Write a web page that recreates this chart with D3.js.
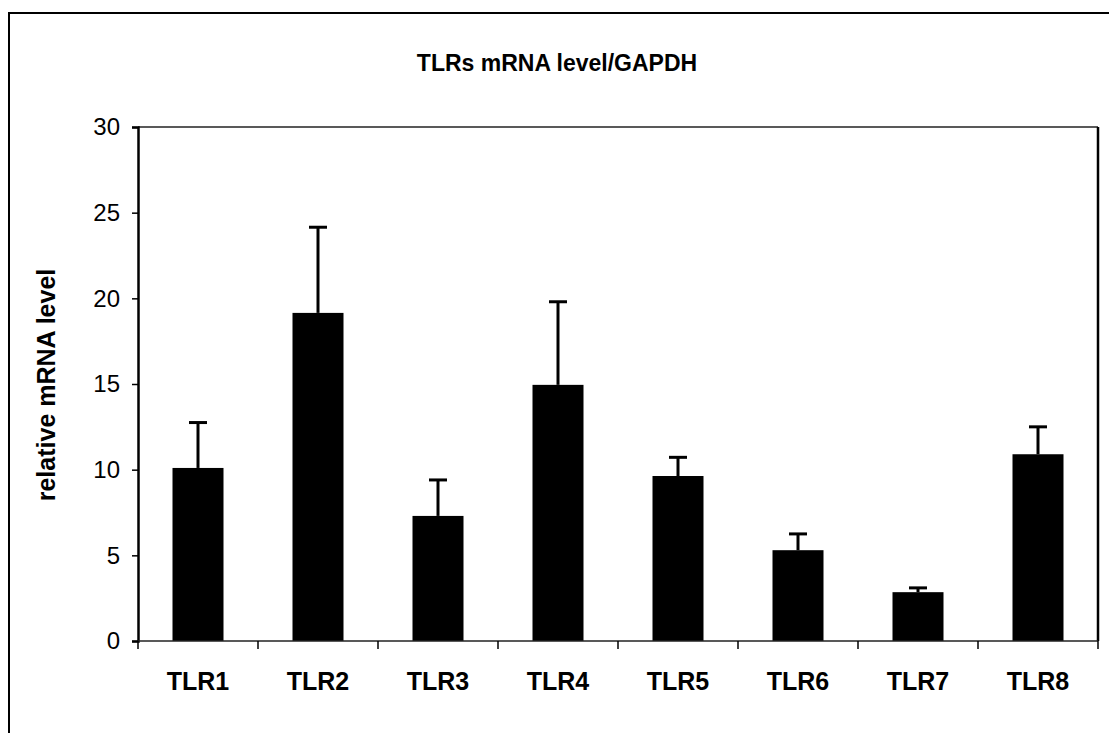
<!DOCTYPE html>
<html>
<head>
<meta charset="utf-8">
<script src="https://cdn.jsdelivr.net/npm/d3@7.9.0/dist/d3.min.js"></script>
<style>
  body { margin: 0; background: #fff; }
  svg { display: block; font-family: "Liberation Sans", Arial, sans-serif; }
</style>
</head>
<body>
<svg id="chart" width="1109" height="733"></svg>
<script>
// data
const categories = ['TLR1', 'TLR2', 'TLR3', 'TLR4', 'TLR5', 'TLR6', 'TLR7', 'TLR8'];
const values = [10.1, 19.15, 7.3, 14.95, 9.63, 5.3, 2.85, 10.9];
const errTops = [12.75, 24.15, 9.4, 19.8, 10.72, 6.25, 3.1, 12.5];
const yTicks = [0, 5, 10, 15, 20, 25, 30];

const svg = d3.select('#chart');

// outer frame (runs off right / bottom edge)
svg.append('rect')
  .attr('x', 9).attr('y', 13)
  .attr('width', 1140).attr('height', 760)
  .attr('fill', 'none').attr('stroke', '#000').attr('stroke-width', 2);

const plot = { left: 138, top: 127, right: 1098, bottom: 641 };

const x = d3.scaleBand()
  .domain(categories)
  .range([plot.left, plot.right])
  .paddingInner(0).paddingOuter(0);

const y = d3.scaleLinear()
  .domain([0, 30])
  .range([plot.bottom, plot.top]);

const barW = x.bandwidth() * 0.425;

// plot frame top/right
svg.append('line')
  .attr('x1', plot.left).attr('x2', plot.right)
  .attr('y1', plot.top).attr('y2', plot.top)
  .attr('stroke', '#222').attr('stroke-width', 1.5);
svg.append('line')
  .attr('x1', plot.right).attr('x2', plot.right)
  .attr('y1', plot.top).attr('y2', plot.bottom)
  .attr('stroke', '#000').attr('stroke-width', 2.5);

// bars
svg.append('g').selectAll('rect')
  .data(categories)
  .join('rect')
  .attr('x', d => x(d) + x.bandwidth() / 2 - barW / 2)
  .attr('y', (d, i) => y(values[i]))
  .attr('width', barW)
  .attr('height', (d, i) => y(0) - y(values[i]))
  .attr('fill', '#000');

// error bars (upper only)
const err = svg.append('g').attr('stroke', '#000').attr('stroke-width', 3);
categories.forEach((c, i) => {
  const cx = x(c) + x.bandwidth() / 2;
  err.append('line')
    .attr('x1', cx).attr('x2', cx)
    .attr('y1', y(values[i])).attr('y2', y(errTops[i]));
  err.append('line')
    .attr('x1', cx - 9).attr('x2', cx + 9)
    .attr('y1', y(errTops[i])).attr('y2', y(errTops[i]));
});

// y axis
const yAxis = svg.append('g')
  .attr('transform', `translate(${plot.left},0)`)
  .call(d3.axisLeft(y).tickValues(yTicks).tickSize(6).tickPadding(12));
yAxis.select('.domain').attr('stroke-width', 2.5);
yAxis.selectAll('.tick line').attr('stroke-width', 1.5);
yAxis.selectAll('text')
  .attr('font-size', 24).attr('fill', '#000')
  .attr('font-family', '"Liberation Sans", Arial, sans-serif');

// x axis: ticks sit between categories
const xAxis = svg.append('g')
  .attr('transform', `translate(0,${plot.bottom})`);
xAxis.append('line')
  .attr('x1', plot.left).attr('x2', plot.right)
  .attr('stroke', '#222').attr('stroke-width', 1.5);
const edges = categories.map(c => x(c)).concat([x(categories[categories.length - 1]) + x.bandwidth()]);
xAxis.selectAll('.xt')
  .data(edges)
  .join('line')
  .attr('class', 'xt')
  .attr('x1', d => d).attr('x2', d => d)
  .attr('y1', 0).attr('y2', 8)
  .attr('stroke', '#000').attr('stroke-width', 1.5);
xAxis.selectAll('.xl')
  .data(categories)
  .join('text')
  .attr('class', 'xl')
  .attr('x', d => x(d) + x.bandwidth() / 2)
  .attr('y', 49)
  .attr('text-anchor', 'middle')
  .attr('font-size', 25)
  .attr('font-weight', 'bold')
  .text(d => d);

// title
svg.append('text')
  .attr('x', 557).attr('y', 71)
  .attr('text-anchor', 'middle')
  .attr('font-size', 23)
  .attr('font-weight', 'bold')
  .text('TLRs mRNA level/GAPDH');

// y label
svg.append('text')
  .attr('transform', 'translate(55,385) rotate(-90)')
  .attr('text-anchor', 'middle')
  .attr('font-size', 25)
  .attr('font-weight', 'bold')
  .text('relative mRNA level');
</script>
</body>
</html>
